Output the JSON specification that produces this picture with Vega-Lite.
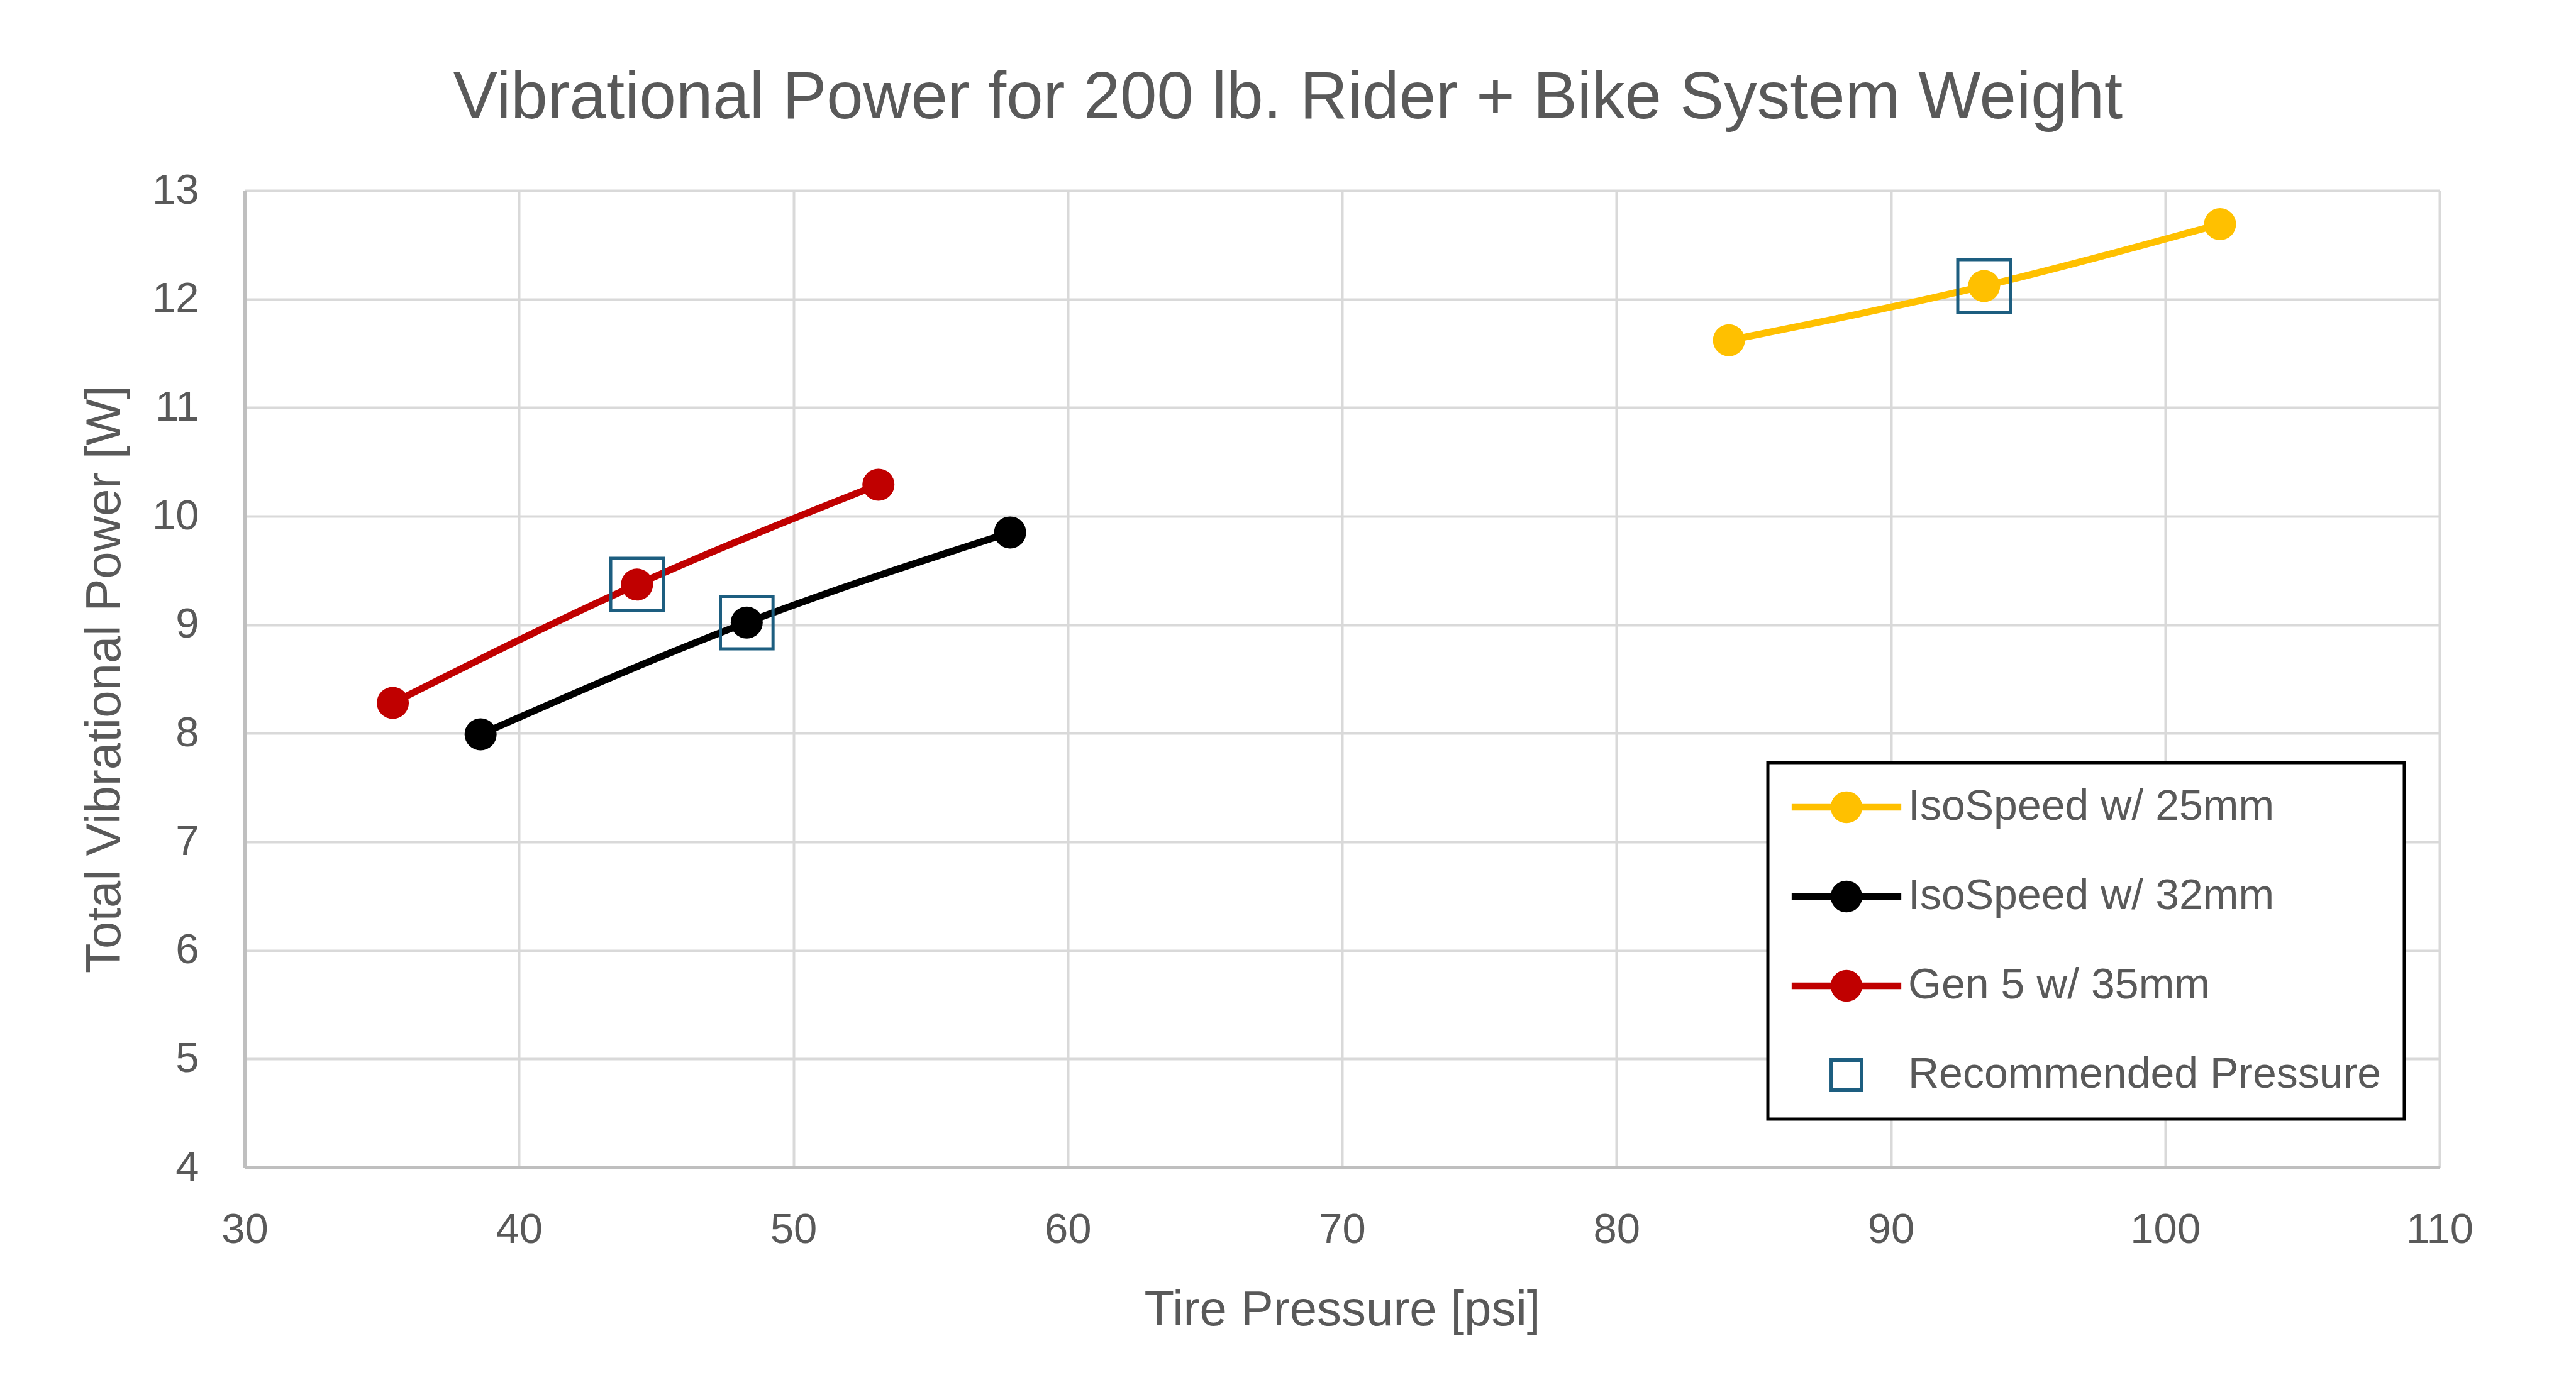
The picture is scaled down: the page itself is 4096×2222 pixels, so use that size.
{
  "$schema": "https://vega.github.io/schema/vega-lite/v6.json",
  "width": 3490,
  "height": 1554,
  "autosize": "none",
  "padding": {"left": 389, "top": 303, "right": 217, "bottom": 365},
  "background": "white",
  "title": {
    "text": "Vibrational Power for 200 lb. Rider + Bike System Weight",
    "anchor": "middle",
    "frame": "group",
    "baseline": "alphabetic",
    "offset": -24,
    "dx": -86,
    "font": "Liberation Sans",
    "fontSize": 105,
    "fontWeight": "normal",
    "color": "#595959"
  },
  "data": {
    "values": [
      {"series": "IsoSpeed w/ 25mm", "psi": 84.1, "power": 11.62, "rec": false},
      {"series": "IsoSpeed w/ 25mm", "psi": 93.4, "power": 12.12, "rec": true},
      {"series": "IsoSpeed w/ 25mm", "psi": 102.0, "power": 12.69, "rec": false},
      {"series": "IsoSpeed w/ 32mm", "psi": 38.6, "power": 7.99, "rec": false},
      {"series": "IsoSpeed w/ 32mm", "psi": 48.3, "power": 9.02, "rec": true},
      {"series": "IsoSpeed w/ 32mm", "psi": 57.9, "power": 9.85, "rec": false},
      {"series": "Gen 5 w/ 35mm", "psi": 35.4, "power": 8.28, "rec": false},
      {"series": "Gen 5 w/ 35mm", "psi": 44.3, "power": 9.37, "rec": true},
      {"series": "Gen 5 w/ 35mm", "psi": 53.1, "power": 10.29, "rec": false}
    ]
  },
  "encoding": {
    "x": {
      "field": "psi",
      "type": "quantitative",
      "scale": {"domain": [30, 110], "nice": false, "zero": false},
      "axis": {
        "title": "Tire Pressure [psi]",
        "values": [30, 40, 50, 60, 70, 80, 90, 100, 110],
        "labelFlush": false,
        "labelPadding": 66,
        "titleX": 1745,
        "titleY": 250,
        "titleBaseline": "alphabetic",
        "titleAlign": "center"
      }
    },
    "y": {
      "field": "power",
      "type": "quantitative",
      "scale": {"domain": [4, 13], "nice": false, "zero": false},
      "axis": {
        "title": "Total Vibrational Power [W]",
        "values": [4, 5, 6, 7, 8, 9, 10, 11, 12, 13],
        "labelFlush": false,
        "labelPadding": 73,
        "titleX": -199,
        "titleY": 777,
        "titleAngle": -90,
        "titleBaseline": "alphabetic",
        "titleAlign": "center"
      }
    }
  },
  "layer": [
    {
      "mark": {
        "type": "line",
        "interpolate": "monotone",
        "strokeWidth": 11,
        "strokeCap": "round",
        "point": {"filled": true, "size": 2600, "opacity": 1}
      },
      "encoding": {
        "color": {
          "field": "series",
          "type": "nominal",
          "scale": {
            "domain": ["IsoSpeed w/ 25mm", "IsoSpeed w/ 32mm", "Gen 5 w/ 35mm", "Recommended Pressure"],
            "range": ["#FFC000", "#000000", "#C00000", "#1D5E80"]
          },
          "legend": {
            "title": null,
            "orient": "none",
            "legendX": 2422,
            "legendY": 910,
            "padding": 36,
            "symbolSize": 4900,
            "symbolOffset": 54,
            "labelOffset": 63,
            "rowPadding": 73,
            "labelFontSize": 68,
            "labelFont": "Liberation Sans",
            "labelColor": "#595959",
            "labelLimit": 2000,
            "strokeColor": "#000000",
            "encode": {
              "legend": {"update": {"strokeWidth": {"value": 5}, "fill": {"value": "white"}}},
              "symbols": {
                "update": {
                  "shape": {"signal": "datum.value === 'Recommended Pressure' ? 'M-0.77,-0.77L0.77,-0.77L0.77,0.77L-0.77,0.77Z M-0.6,-0.6L-0.6,0.6L0.6,0.6L0.6,-0.6Z' : 'M-2.49,-0.15L2.49,-0.15L2.49,0.15L-2.49,0.15Z M-0.72,0A0.72,0.72 0 1,1 0.72,0A0.72,0.72 0 1,1 -0.72,0Z'"},
                  "strokeWidth": {"value": 0},
                  "opacity": {"value": 1}
                }
              }
            }
          }
        }
      }
    },
    {
      "transform": [{"filter": "datum.rec"}],
      "mark": {
        "type": "point",
        "shape": "square",
        "filled": false,
        "size": 7000,
        "stroke": "#1D5E80",
        "strokeWidth": 5,
        "opacity": 1
      }
    }
  ],
  "config": {
    "view": {"stroke": null},
    "axis": {
      "grid": true,
      "gridColor": "#D9D9D9",
      "gridWidth": 4,
      "domainColor": "#BFBFBF",
      "domainWidth": 5,
      "ticks": false,
      "labelFont": "Liberation Sans",
      "labelFontSize": 67,
      "labelColor": "#595959",
      "titleFont": "Liberation Sans",
      "titleFontSize": 78,
      "titleFontWeight": "normal",
      "titleColor": "#595959"
    }
  }
}
